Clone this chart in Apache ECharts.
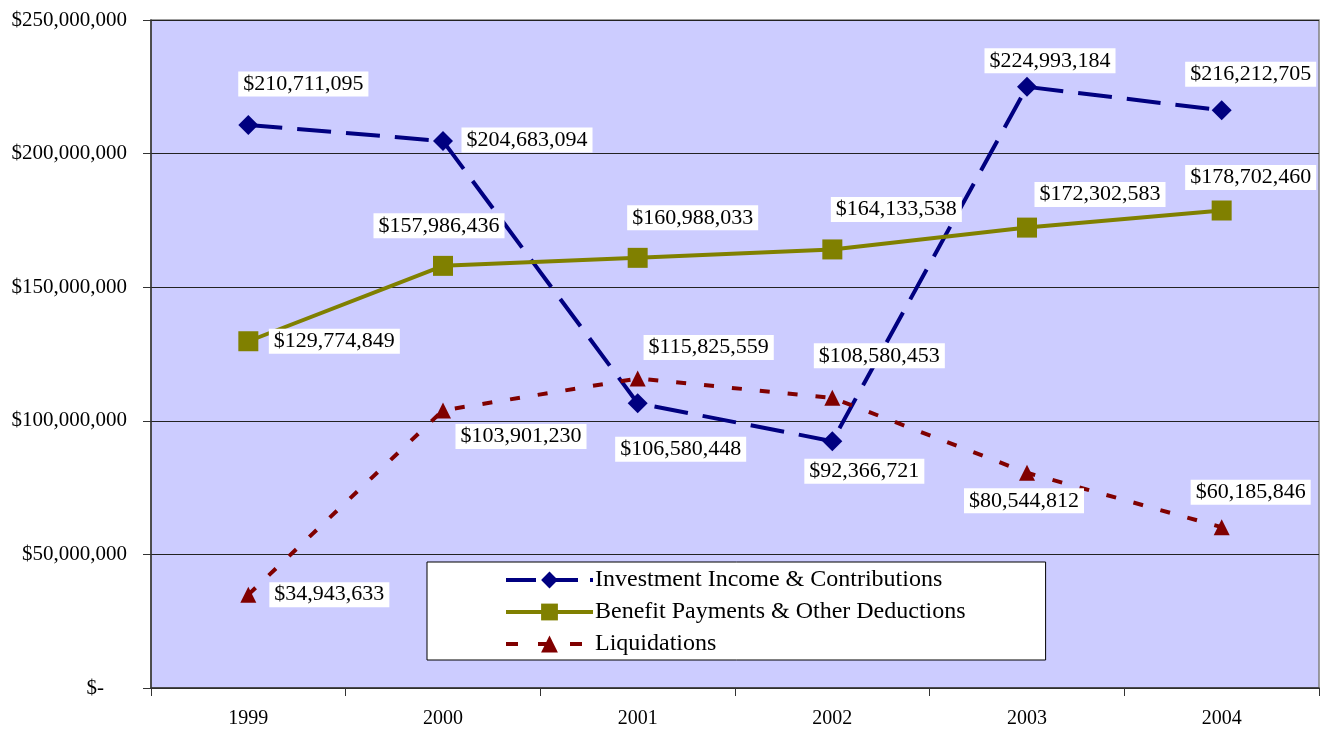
<!DOCTYPE html>
<html>
<head>
<meta charset="utf-8">
<script src="https://cdn.jsdelivr.net/npm/echarts@6/dist/echarts.min.js"></script>
<style>
  html, body { margin: 0; padding: 0; background: #fff; }
  #chart { width: 1330px; height: 729px; }
</style>
</head>
<body>
<div id="chart"></div>
<script>
const years = ['1999', '2000', '2001', '2002', '2003', '2004']
const investment = [210711095, 204683094, 106580448, 92366721, 224993184, 216212705]
const benefits = [129774849, 157986436, 160988033, 164133538, 172302583, 178702460]
const liquidations = [34943633, 103901230, 115825559, 108580453, 80544812, 60185846]

// where each value label sits relative to its point (px)
const investOffsets = [[55, -41], [84, -1], [43, 46], [32, 30], [23, -26], [29, -36]]
const benefitOffsets = [[86, 0], [-4, -40], [55, -40], [64, -40], [73, -33], [29, -33]]
const liquidOffsets = [[81, 0], [78, 26], [71, -31], [47, -42], [-3, 28], [29, -35]]

const font = 'Liberation Serif'
const money = v => '$' + v.toLocaleString('en-US')

const withLabels = (values, offsets) => values.map((v, i) => ({
  value: v,
  label: { offset: offsets[i] }
}))

const labelStyle = {
  show: true,
  position: 'inside',
  formatter: p => money(p.value),
  fontFamily: font,
  fontSize: 22,
  color: '#000',
  backgroundColor: '#fff',
  padding: [2, 5, 1, 5]
}

const chart = echarts.init(document.getElementById('chart'))
chart.setOption({
  animation: false,
  grid: {
    left: 151, top: 20, right: 11, bottom: 41,
    show: true,
    backgroundColor: '#ccccff',
    borderColor: '#808080',
    borderWidth: 1.5
  },
  legend: {
    orient: 'vertical',
    left: 427,
    top: 562,
    backgroundColor: '#fff',
    borderColor: '#000',
    borderWidth: 1,
    padding: [6, 80, 4, 77],
    itemWidth: 87,
    itemHeight: 21,
    itemGap: 8,
    textStyle: { fontFamily: font, fontSize: 24, color: '#000', padding: [0, 0, 0, -3] },
    data: [
      { name: 'Investment Income & Contributions', lineStyle: { width: 4, type: [30, 12] } },
      { name: 'Benefit Payments & Other Deductions', lineStyle: { width: 4 } },
      { name: 'Liquidations', lineStyle: { width: 4, type: [12, 20] } }
    ]
  },
  xAxis: {
    type: 'category',
    data: years,
    boundaryGap: true,
    axisLine: { lineStyle: { color: '#333', width: 1.5 } },
    axisTick: { show: true, length: 8, lineStyle: { color: '#333' } },
    axisLabel: { fontFamily: font, fontSize: 20, color: '#000', margin: 21 }
  },
  yAxis: {
    type: 'value',
    min: 0,
    max: 250000000,
    interval: 50000000,
    axisLine: { show: true, lineStyle: { color: '#333', width: 1.5 } },
    axisTick: { show: true, length: 8, lineStyle: { color: '#333' } },
    splitLine: { lineStyle: { color: '#222', width: 1 } },
    axisLabel: {
      fontFamily: font, fontSize: 21, color: '#000', margin: 24,
      formatter: v => v === 0 ? '{z|$-}' : money(v),
      rich: { z: { fontFamily: font, fontSize: 21, color: '#000', padding: [0, 23, 0, 0] } }
    }
  },
  series: [
    {
      name: 'Investment Income & Contributions',
      type: 'line',
      data: withLabels(investment, investOffsets),
      symbol: 'diamond',
      symbolSize: 20,
      itemStyle: { color: '#000080' },
      lineStyle: { color: '#000080', width: 4, type: [34, 15] },
      label: labelStyle,
      z: 2
    },
    {
      name: 'Benefit Payments & Other Deductions',
      type: 'line',
      data: withLabels(benefits, benefitOffsets),
      symbol: 'rect',
      symbolSize: 20,
      itemStyle: { color: '#808000' },
      lineStyle: { color: '#808000', width: 4 },
      label: labelStyle,
      z: 2
    },
    {
      name: 'Liquidations',
      type: 'line',
      data: withLabels(liquidations, liquidOffsets),
      symbol: 'triangle',
      symbolSize: 16,
      itemStyle: { color: '#800000' },
      lineStyle: { color: '#800000', width: 4, type: [10, 18] },
      label: labelStyle,
      z: 2
    }
  ]
})
</script>
</body>
</html>
